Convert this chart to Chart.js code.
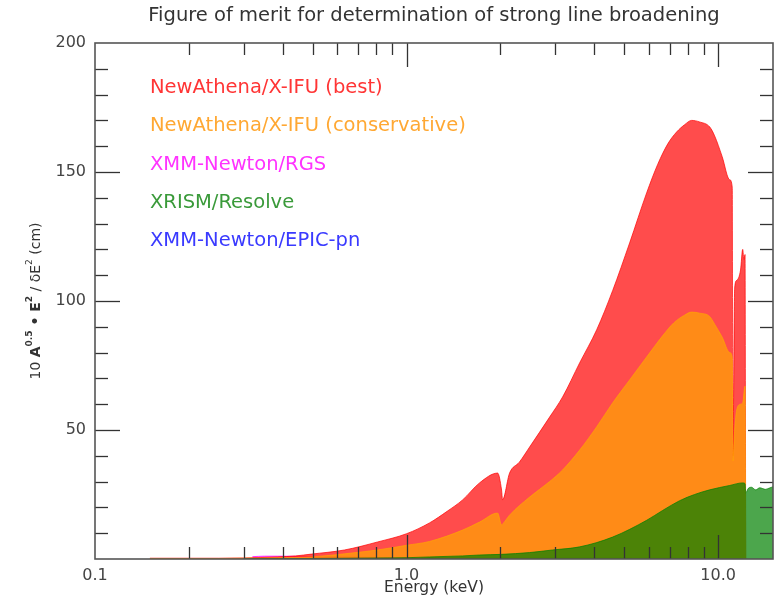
<!DOCTYPE html>
<html>
<head>
<meta charset="utf-8">
<script src="https://cdn.jsdelivr.net/npm/chart.js@4.4.0/dist/chart.umd.min.js"></script>
<style>
  html, body { margin: 0; padding: 0; background: #fff; }
</style>
</head>
<body>
<canvas id="chart" width="782" height="598"></canvas>
<script>
const title = 'Figure of merit for determination of strong line broadening'
const xTitle = 'Energy (keV)'

const seriesNames = [
  'NewAthena/X-IFU (best)',
  'NewAthena/X-IFU (conservative)',
  'XMM-Newton/RGS',
  'XRISM/Resolve',
  'XMM-Newton/EPIC-pn',
]
const fillColors = ['rgba(255,0,0,0.7)', 'rgba(255,165,0,0.7)', 'rgba(255,0,255,0.7)', 'rgba(0,128,0,0.7)', 'rgba(0,0,255,0.7)']
const textColors = ['#ff3535', '#ffa833', '#ff33ff', '#3a9a3a', '#3a3aff']
// bottom-most drawn first: higher order = further down
const drawOrder = [3, 2, 4, 1, 5]

// energies (keV) and figure of merit (cm)
const bestE = [0.15, 0.2, 0.25, 0.3, 0.385, 0.44, 0.495, 0.632, 0.807, 1.0, 1.185, 1.35, 1.513, 1.715, 1.96, 2.018, 2.033, 2.141, 2.3, 2.483, 2.878, 3.168, 3.593, 4.074, 4.585, 5.199, 5.896, 6.4, 6.9, 7.357, 7.8, 8.222, 8.722, 9.391, 9.745, 10.3, 10.89, 11.1, 11.15, 11.3, 11.47, 11.8, 11.99, 12.1, 12.2, 12.26]
const bestV = [0.3, 0.3, 0.3, 0.4, 0.8, 1.2, 1.9, 3.5, 6.6, 9.8, 14, 18.5, 22.9, 29.5, 33.3, 26.7, 23, 33.3, 37.5, 43.4, 55, 62.8, 76, 88.8, 104, 122.5, 141.9, 153, 161, 165.5, 168.3, 170, 169.4, 167.5, 164, 156, 147, 144, 40, 105, 108, 112, 120, 116, 118, 0]

const consE = [0.15, 0.2, 0.25, 0.3, 0.385, 0.495, 0.632, 0.807, 1.0, 1.185, 1.513, 1.715, 1.96, 2.018, 2.033, 2.141, 2.483, 2.878, 3.168, 3.593, 4.074, 4.585, 5.199, 5.896, 6.633, 7.2, 7.8, 8.222, 8.722, 9.391, 9.745, 10.3, 10.89, 11.1, 11.15, 11.3, 11.47, 11.8, 11.99, 12.2, 12.26]
const consV = [0.2, 0.2, 0.2, 0.3, 0.5, 0.8, 2, 3.5, 5.3, 6.8, 11.2, 14.3, 17.8, 13.2, 13.5, 17, 24, 30, 34.5, 42.2, 51.2, 60.5, 69.4, 78.3, 86.5, 91.5, 94.5, 95.7, 95.3, 94, 91, 86, 80, 78, 38, 50, 57.8, 60, 60.5, 67, 0]

const rgsE = [0.32, 0.35, 0.4, 0.45, 0.5, 0.6, 0.8, 1.0, 1.5, 2.0, 2.5]
const rgsV = [0.9, 1.1, 1.1, 1.0, 0.9, 0.8, 0.6, 0.5, 0.4, 0.3, 0.2]

const resolveE = [0.3, 0.5, 0.807, 1.0, 1.185, 1.513, 1.715, 2.018, 2.483, 2.94, 3.593, 4.585, 5.896, 6.633, 7.522, 8.4, 9.391, 10.89, 11.99, 12.2, 12.26, 12.5, 12.8, 13.2, 13.6, 14.2, 14.6, 15]
const resolveV = [0.1, 0.2, 0.4, 0.5, 0.8, 1.2, 1.55, 1.8, 2.5, 3.5, 4.7, 8.5, 15, 18.8, 22.6, 25, 26.8, 28.5, 29.5, 29.2, 25.6, 27.4, 27.8, 26.8, 27.6, 27, 27.5, 28]

const pnE = [0.3, 0.5, 1.0, 2.0, 5.0, 10.0, 12.0]
const pnV = [0.1, 0.2, 0.3, 0.3, 0.3, 0.2, 0.1]

const xTicks = [0.1, 1, 10]
const xTickLabels = ['0.1', '1.0', '10.0']
const yTicks = [50, 100, 150, 200]

const seriesE = [bestE, consE, rgsE, resolveE, pnE]
const seriesV = [bestV, consV, rgsV, resolveV, pnV]

const datasets = seriesNames.map((name, i) => ({
  label: name,
  data: seriesE[i].map((e, k) => ({ x: e, y: seriesV[i][k] })),
  backgroundColor: fillColors[i],
  borderColor: fillColors[i],
  borderWidth: 1,
  pointRadius: 0,
  cubicInterpolationMode: 'monotone',
  fill: 'origin',
  order: drawOrder[i],
}))

const FONT = '"DejaVu Sans", sans-serif'

// frame, inward ticks, tick labels, titles and text legend
const decorations = {
  id: 'decorations',
  afterDatasetsDraw(chart) {
    const { ctx, chartArea: a, scales: { x, y } } = chart
    ctx.save()

    const seg = (x1, y1, x2, y2) => { ctx.beginPath(); ctx.moveTo(x1, y1); ctx.lineTo(x2, y2); ctx.stroke() }

    ctx.strokeStyle = '#333'
    ctx.lineWidth = 1.3
    for (let v = 10; v < 200; v += 10) {
      const py = Math.round(y.getPixelForValue(v)) + 0.5
      const len = v % 50 === 0 ? 25 : 13
      seg(a.left, py, a.left + len, py)
      seg(a.right, py, a.right - len, py)
    }
    for (const d of xTicks) {
      for (let m = 1; m < 10; m++) {
        const v = d * m
        if (v <= x.min * 1.001 || v >= x.max) continue
        const px = Math.round(x.getPixelForValue(v)) + 0.5
        const len = m === 1 ? 24 : 12
        seg(px, a.bottom, px, a.bottom - len)
        seg(px, a.top, px, a.top + len)
      }
    }

    ctx.strokeStyle = '#555'
    ctx.lineWidth = 1.6
    ctx.strokeRect(a.left, a.top, a.right - a.left, a.bottom - a.top)

    // tick labels
    ctx.fillStyle = '#444'
    ctx.font = '16px ' + FONT
    ctx.textAlign = 'right'
    ctx.textBaseline = 'middle'
    yTicks.forEach(v => ctx.fillText(String(v), a.left - 9, y.getPixelForValue(v)))
    ctx.textAlign = 'center'
    ctx.textBaseline = 'top'
    xTicks.forEach((v, i) => ctx.fillText(xTickLabels[i], x.getPixelForValue(v), a.bottom + 9))

    ctx.font = '15.5px ' + FONT
    ctx.textBaseline = 'middle'
    ctx.fillStyle = '#333'
    ctx.fillText(xTitle, (a.left + a.right) / 2, 588)

    ctx.font = '19.5px ' + FONT
    ctx.fillText(title, (a.left + a.right) / 2, 16)

    // rotated y title with superscripts
    const parts = [
      { t: '10 ', f: '14px ' + FONT, dy: 0 },
      { t: 'A', f: 'bold 14px ' + FONT, dy: 0 },
      { t: '0.5', f: 'bold 9px ' + FONT, dy: -6 },
      { t: ' • ', f: 'bold 14px ' + FONT, dy: 0 },
      { t: 'E', f: 'bold 14px ' + FONT, dy: 0 },
      { t: '2', f: 'bold 9px ' + FONT, dy: -6 },
      { t: ' / δE', f: '14px ' + FONT, dy: 0 },
      { t: '2', f: '9px ' + FONT, dy: -6 },
      { t: ' (cm)', f: '14px ' + FONT, dy: 0 },
    ]
    let total = 0
    parts.forEach(p => { ctx.font = p.f; p.w = ctx.measureText(p.t).width; total += p.w })
    ctx.translate(36, (a.top + a.bottom) / 2)
    ctx.rotate(-Math.PI / 2)
    ctx.textAlign = 'left'
    ctx.textBaseline = 'middle'
    let cx = -total / 2
    parts.forEach(p => { ctx.font = p.f; ctx.fillText(p.t, cx, p.dy); cx += p.w })
    ctx.setTransform(1, 0, 0, 1, 0, 0)

    // text-only legend
    ctx.font = '19.5px ' + FONT
    ctx.textAlign = 'left'
    ctx.textBaseline = 'middle'
    seriesNames.forEach((name, i) => {
      ctx.fillStyle = textColors[i]
      ctx.fillText(name, 150, 88 + i * 38.3)
    })

    ctx.restore()
  }
}

new Chart(document.getElementById('chart'), {
  type: 'line',
  data: { datasets },
  options: {
    responsive: false,
    animation: false,
    layout: { padding: { left: 95, right: 9, top: 43, bottom: 39 } },
    plugins: { legend: { display: false }, tooltip: { enabled: false }, title: { display: false } },
    scales: {
      x: {
        type: 'logarithmic',
        min: 0.1,
        max: 15,
        ticks: { display: false },
        grid: { display: false, drawTicks: false },
        border: { display: false },
      },
      y: {
        type: 'linear',
        min: 0,
        max: 200,
        ticks: { display: false },
        grid: { display: false, drawTicks: false },
        border: { display: false },
      },
    },
  },
  plugins: [decorations],
})
</script>
</body>
</html>
